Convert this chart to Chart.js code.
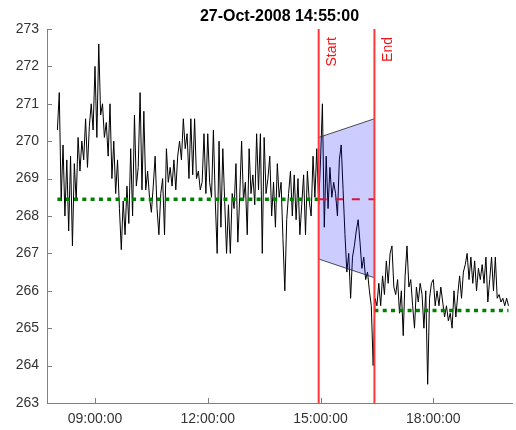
<!DOCTYPE html>
<html lang="en">
<head>
<meta charset="UTF-8">
<title>27-Oct-2008 14:55:00</title>
<script src="https://cdn.jsdelivr.net/npm/chart.js"></script>
<style>
  html, body { margin: 0; padding: 0; background: #fff; }
</style>
</head>
<body>
<canvas id="chart" width="516" height="430"></canvas>
<script>
// ---- data (times in minutes after midnight) ----
const titleText = '27-Oct-2008 14:55:00';
const sampleStart = 480;   // 08:00
const sampleStep = 3;      // minutes between samples
const signal = [
  270.3, 271.3, 268.4, 269.9, 268.0, 269.5, 267.6, 269.6, 267.2, 269.4, 268.4, 270.1, 269.2, 270.0, 269.5, 270.6, 269.3, 270.4, 271.0, 270.3,
  272.0, 270.1, 272.6, 270.7, 271.0, 270.1, 270.5, 269.6, 271.0, 269.0, 270.0, 268.6, 269.5, 268.2, 267.1, 268.4, 267.5, 268.8, 267.8, 269.8,
  268.0, 270.7, 268.8, 269.3, 271.3, 268.7, 270.8, 268.7, 269.2, 268.5, 268.1, 268.8, 269.6, 268.2, 267.5, 268.6, 269.0, 267.5, 269.8, 268.9,
  269.3, 268.8, 269.5, 268.7, 269.6, 270.0, 269.5, 270.6, 269.8, 270.2, 269.0, 270.6, 269.1, 270.6, 269.0, 269.2, 268.7, 268.9, 270.2, 268.6,
  270.2, 268.9, 268.5, 270.3, 268.4, 267.0, 270.0, 267.7, 269.8, 268.4, 267.0, 268.3, 267.0, 268.6, 268.2, 269.4, 267.3, 268.5, 270.0, 268.4,
  268.9, 267.5, 269.8, 268.6, 269.1, 268.3, 270.2, 268.7, 270.2, 267.0, 270.1, 268.6, 269.0, 269.6, 268.0, 268.9, 267.7, 269.4, 268.5, 268.9,
  267.4, 266.0, 267.9, 268.6, 269.2, 268.0, 269.1, 267.9, 269.0, 267.5, 268.3, 269.1, 267.5, 269.2, 268.4, 268.0, 269.6, 268.5, 269.8, 268.3,
  269.5, 271.0, 267.7, 269.6, 268.2, 269.3, 268.5, 268.9, 268.6, 268.0, 269.5, 269.9, 268.7, 267.5, 266.5, 267.0, 265.8, 266.9, 267.2, 267.6,
  267.9, 267.3, 266.6, 266.9, 266.3, 266.5, 266.0, 265.6, 264.0, 265.8, 265.6, 266.2, 265.6, 266.4, 265.9, 266.8, 266.2, 267.0, 267.2, 266.1,
  265.9, 266.3, 265.4, 266.0, 264.8, 266.4, 267.2, 266.1, 266.3, 265.6, 265.0, 266.1, 265.7, 266.2, 265.9, 265.0, 266.0, 263.5, 265.8, 266.2,
  266.3, 265.6, 266.0, 265.6, 266.1, 265.7, 265.3, 265.6, 265.2, 265.4, 265.0, 266.0, 265.3, 265.9, 266.4, 265.8, 266.5, 266.7, 267.0, 266.3,
  266.9, 266.2, 266.8, 266.0, 266.6, 266.3, 266.7, 266.2, 266.9, 265.7, 266.3, 266.9, 266.0, 266.9, 265.8, 265.9, 265.7, 265.8, 265.6, 265.8, 265.6
];

const startT = 897;            // "Start" marker
const endT = 986;              // "End" marker
const markerNames = ['Start', 'End'];
const levelBefore = 268.45;    // mean before start
const levelAfter = 265.47;     // mean after end
const bandTop = [270.1, 270.6];
const bandBottom = [266.85, 266.35];

const xTicks = [540, 720, 900, 1080];
const xMin = 463.4, xMax = 1205.6;
const yMin = 263, yMax = 273;

const FONT = '"Liberation Sans", Arial, Helvetica, sans-serif';
const markerRed = 'rgb(255,55,55)';

function pad(n) { return String(n).padStart(2, '0'); }
function fmtTime(m) {
  return pad(Math.floor(m / 60)) + ':' + pad(Math.round(m % 60)) + ':00';
}

const signalPts = signal.map((v, i) => ({ x: sampleStart + i * sampleStep, y: v }));
const lastT = sampleStart + (signal.length - 1) * sampleStep;

// inward tick marks, MATLAB style
const innerTicks = {
  id: 'innerTicks',
  afterDraw(chart) {
    const { ctx, chartArea, scales: { x, y } } = chart;
    ctx.save();
    ctx.strokeStyle = '#808080';
    ctx.lineWidth = 1;
    ctx.beginPath();
    x.ticks.forEach(t => {
      const px = Math.round(x.getPixelForValue(t.value)) + 0.5;
      ctx.moveTo(px, chartArea.bottom);
      ctx.lineTo(px, chartArea.bottom - 5);
    });
    y.ticks.forEach(t => {
      const py = Math.round(y.getPixelForValue(t.value)) + 0.5;
      ctx.moveTo(chartArea.left, py);
      ctx.lineTo(chartArea.left + 5, py);
    });
    ctx.stroke();
    ctx.restore();
  }
};

// rotated Start / End labels next to the marker lines
const markerLabels = {
  id: 'markerLabels',
  afterDatasetsDraw(chart) {
    const { ctx, chartArea, scales: { x } } = chart;
    ctx.save();
    ctx.fillStyle = 'rgb(240,20,20)';
    ctx.font = '14px ' + FONT;
    ctx.textAlign = 'right';
    ctx.textBaseline = 'middle';
    [startT, endT].forEach((t, i) => {
      ctx.save();
      ctx.translate(x.getPixelForValue(t) + 13.5, chartArea.top + 8);
      ctx.rotate(-Math.PI / 2);
      ctx.fillText(markerNames[i], 0, 0);
      ctx.restore();
    });
    ctx.restore();
  }
};

new Chart(document.getElementById('chart'), {
  type: 'line',
  data: {
    datasets: [
      { data: signalPts, borderColor: '#000', borderWidth: 1, order: 6 },
      { data: [{ x: sampleStart, y: levelBefore }, { x: startT, y: levelBefore }],
        borderColor: 'rgb(0,128,0)', borderWidth: 3.5, borderDash: [4, 4.3], order: 5 },
      { data: [{ x: endT, y: levelAfter }, { x: lastT, y: levelAfter }],
        borderColor: 'rgb(0,128,0)', borderWidth: 3.5, borderDash: [4, 4.3], order: 5 },
      { data: [{ x: startT, y: bandBottom[0] }, { x: endT, y: bandBottom[1] }],
        borderColor: '#222', borderWidth: 0.8, order: 4 },
      { data: [{ x: startT, y: bandTop[0] }, { x: endT, y: bandTop[1] }],
        borderColor: '#222', borderWidth: 0.8, fill: 3,
        backgroundColor: 'rgba(0,0,255,0.2)', order: 3 },
      { data: [{ x: startT, y: levelBefore }, { x: endT, y: levelBefore }],
        borderColor: 'rgb(215,20,60)', borderWidth: 2, borderDash: [8, 8.6], order: 2 },
      { data: [{ x: startT, y: yMin }, { x: startT, y: yMax }],
        borderColor: markerRed, borderWidth: 2, order: 1 },
      { data: [{ x: endT, y: yMin }, { x: endT, y: yMax }],
        borderColor: markerRed, borderWidth: 2, order: 1 }
    ]
  },
  options: {
    responsive: false,
    animation: false,
    elements: { point: { radius: 0 }, line: { tension: 0, fill: false } },
    layout: { padding: { left: 0, right: 4, top: 0, bottom: 0 } },
    plugins: {
      legend: { display: false },
      tooltip: { enabled: false },
      title: {
        display: true,
        text: titleText,
        color: '#000',
        fullSize: false,
        font: { family: FONT, size: 16, weight: 'bold', lineHeight: '19px' },
        padding: { top: 7, bottom: 3 }
      }
    },
    scales: {
      x: {
        type: 'linear',
        min: xMin,
        max: xMax,
        afterBuildTicks: s => { s.ticks = xTicks.map(v => ({ value: v })); },
        afterFit: s => { s.height = 27; },
        grid: { display: false, drawTicks: false },
        border: { display: true, color: '#808080', width: 1 },
        ticks: {
          color: '#333',
          font: { family: FONT, size: 14 },
          padding: 8,
          maxRotation: 0,
          callback: v => fmtTime(v)
        }
      },
      y: {
        min: yMin,
        max: yMax,
        afterFit: s => { s.width = 47; },
        grid: { display: false, drawTicks: false },
        border: { display: true, color: '#808080', width: 1 },
        ticks: {
          stepSize: 1,
          color: '#333',
          font: { family: FONT, size: 14 },
          padding: 8
        }
      }
    }
  },
  plugins: [innerTicks, markerLabels]
});
</script>
</body>
</html>
